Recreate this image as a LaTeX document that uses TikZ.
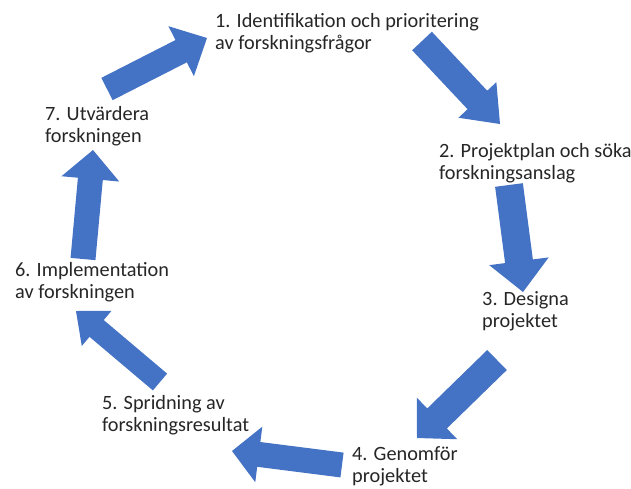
\documentclass[tikz,border=0pt]{standalone}
\usepackage{fontspec}
\setmainfont{Carlito}
\usetikzlibrary{calc}
\definecolor{officeblue}{RGB}{68,114,196}
\begin{document}
\begin{tikzpicture}[x=1pt,y=-1pt,
    steptext/.style={anchor=base west,inner sep=0pt,align=left,text=black!85,
      font=\fontsize{20.3}{22}\selectfont},
    blockarrow/.style={fill=officeblue}]
   \useasboundingbox (0,0) rectangle (631,488);
   %%%%%%%%%%%%%%%%%%%%%%%%%%%%%%%%%%%%%%%%%%
   %%% The seven steps of the cycle (placed at the baseline of the last line)
   %%%%%%%%%%%%%%%%%%%%%%%%%%%%%%%%%%%%%%%%%%
   \node[steptext] (s1) at (215,49) {1. Identifikation och prioritering\\av forskningsfrågor};
   \node[steptext] (s2) at (439,179) {2. Projektplan och söka\\forskningsanslag};
   \node[steptext] (s3) at (482,327) {3. Designa\\projektet};
   \node[steptext] (s4) at (352,482) {4. Genomför\\projektet};
   \node[steptext] (s5) at (102,431) {5. Spridning av\\forskningsresultat};
   \node[steptext] (s6) at (15,298) {6. Implementation\\av forskningen};
   \node[steptext] (s7) at (45,142) {7. Utvärdera\\forskningen};
   % Where each arrow leaves a step and where it points to the next one
   \coordinate (out7) at (107,89);  \coordinate (in1) at (207,38);
   \coordinate (out1) at (422,41);  \coordinate (in2) at (500,124);
   \coordinate (out2) at (509,185); \coordinate (in3) at (523,292);
   \coordinate (out3) at (497,360); \coordinate (in4) at (417,438);
   \coordinate (out4) at (342,465); \coordinate (in5) at (232,451);
   \coordinate (out5) at (160,382); \coordinate (in6) at (76,311);
   \coordinate (out6) at (83,259);  \coordinate (in7) at (93,150);
   %%%%%%%%%%%%%%%%%%%%%%%%%%%%%%%%%%%%%%%%%%
   %%% Block arrows: tail/tip/half shaft/half head/head length
   %%%%%%%%%%%%%%%%%%%%%%%%%%%%%%%%%%%%%%%%%%
   \foreach \a/\b/\s/\H/\L in {out7/in1/12.5/28/29, out1/in2/13.5/26/33,
        out2/in3/14/30/31, out3/in4/14/29/28, out4/in5/12.5/28/27,
        out5/in6/11/23/27, out6/in7/12.5/29/29}
   {
      \coordinate (hb) at ($(\b)!\L pt!(\a)$);
      \fill[blockarrow] ($(\a)!\s pt!90:(\b)$) -- ($(hb)!\s pt!90:(\b)$)
         -- ($(hb)!\H pt!90:(\b)$) -- (\b) -- ($(hb)!\H pt!-90:(\b)$)
         -- ($(hb)!\s pt!-90:(\b)$) -- ($(\a)!\s pt!-90:(\b)$) -- cycle;
   }
\end{tikzpicture}
\end{document}
